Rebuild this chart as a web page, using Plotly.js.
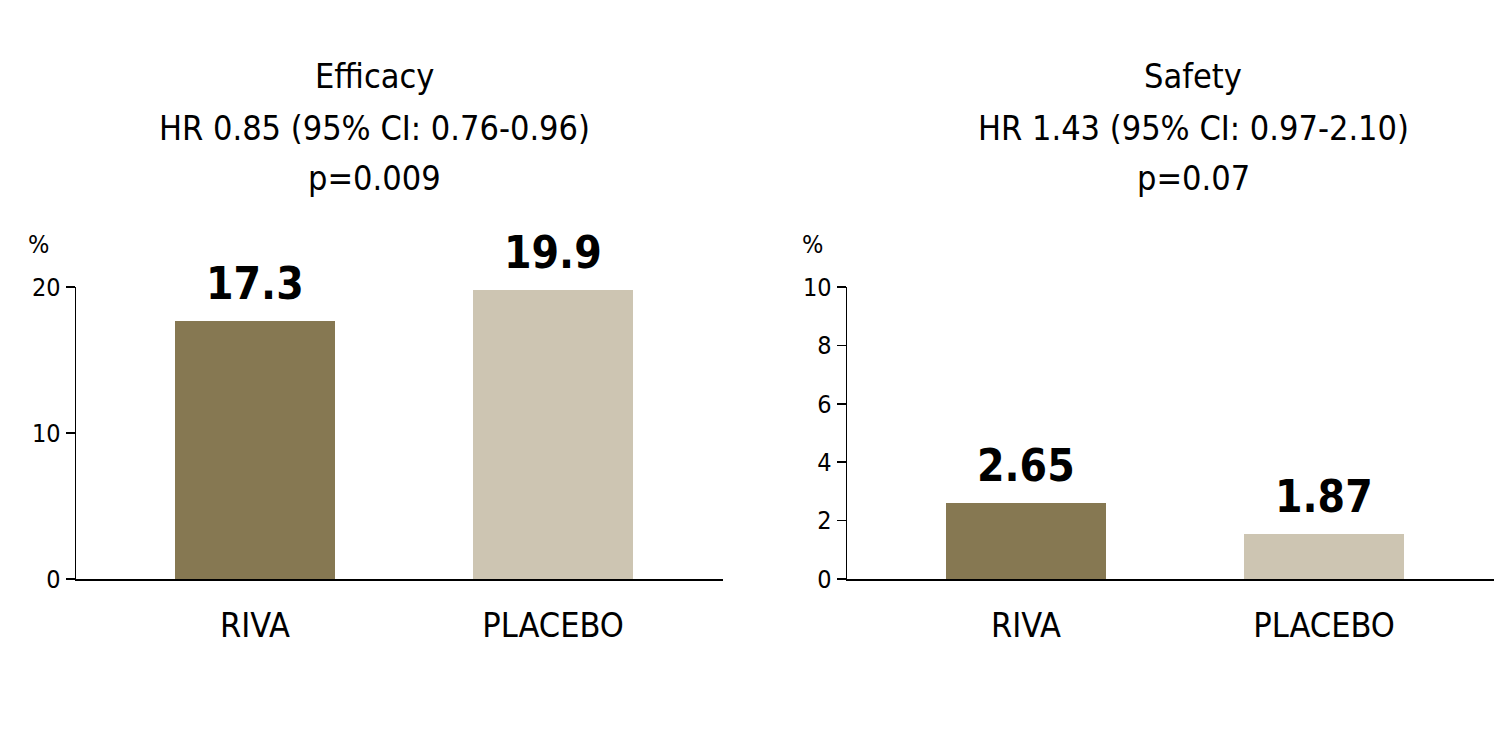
<!DOCTYPE html>
<html>
<head>
<meta charset="utf-8">
<script src="https://cdn.plot.ly/plotly-3.0.1.min.js"></script>
<style>html,body{margin:0;padding:0;background:#fff;}#chart{width:1512px;height:749px;}</style>
</head>
<body>
<div id="chart"></div>
<script>
// ---- data ----
const categories = ["RIVA", "PLACEBO"];
const efficacyBars = [17.7, 19.8];      // bar heights as drawn
const efficacyLabels = ["17.3", "19.9"];
const safetyBars = [2.6, 1.54];         // bar heights as drawn
const safetyLabels = ["2.65", "1.87"];
const efficacyTicks = [0, 10, 20];
const safetyTicks = [0, 2, 4, 6, 8, 10];
const efficacyTitle = ["Efficacy", "HR 0.85 (95% CI: 0.76-0.96)", "p=0.009"];
const safetyTitle = ["Safety", "HR 1.43 (95% CI: 0.97-2.10)", "p=0.07"];
const yUnit = "%";

// ---- style ----
const FONT = "'Liberation Sans Narrow', 'DejaVu Sans Condensed', 'Roboto Condensed', 'Arial Narrow', sans-serif";
const barColors = ["#867852", "#cdc5b2"];
const W = 1512, H = 749;

const traces = [
  {type: "bar", x: categories, y: efficacyBars, xaxis: "x", yaxis: "y",
   marker: {color: barColors}, width: 0.537, hoverinfo: "none"},
  {type: "bar", x: categories, y: safetyBars, xaxis: "x2", yaxis: "y2",
   marker: {color: barColors}, width: 0.537, hoverinfo: "none"}
];

const yDom = [1 - 579 / H, 1 - 287 / H];
function yax(range, ticks, anchor) {
  return {domain: yDom, anchor: anchor, range: range, tickvals: ticks, ticktext: ticks.map(String),
    showline: true, linecolor: "#000", linewidth: 1.5, ticks: "outside", ticklen: 9,
    tickwidth: 1.5, tickcolor: "#000", showgrid: false, zeroline: false,
    tickfont: {family: FONT, size: 25, color: "#000"}, fixedrange: true};
}
function xax(dom, anchor) {
  return {domain: dom, anchor: anchor, range: [-0.6, 1.57], showline: true, linecolor: "#000",
    linewidth: 1.5, ticks: "", showgrid: false, zeroline: false, ticklabelstandoff: 16,
    tickfont: {family: FONT, size: 34, color: "#000"}, fixedrange: true};
}

const annotations = [];
function addLabels(bars, labels, xref, yref) {
  categories.forEach((c, i) => annotations.push({
    x: c, y: bars[i], xref: xref, yref: yref, text: labels[i], showarrow: false,
    yanchor: "bottom", yshift: 10,
    font: {family: FONT, size: 44, color: "#000", weight: 700}
  }));
}
addLabels(efficacyBars, efficacyLabels, "x", "y");
addLabels(safetyBars, safetyLabels, "x2", "y2");

function addTitle(lines, cx) {
  const ys = [76, 128, 178];
  lines.forEach((t, i) => annotations.push({
    x: cx / W, y: 1 - ys[i] / H, xref: "paper", yref: "paper", text: t, showarrow: false,
    xanchor: "center", yanchor: "middle", font: {family: FONT, size: 34, color: "#000"}
  }));
}
addTitle(efficacyTitle, 374);
addTitle(safetyTitle, 1193);

[38, 812].forEach(px => annotations.push({
  x: px / W, y: 1 - 245 / H, xref: "paper", yref: "paper", text: yUnit, showarrow: false,
  xanchor: "center", yanchor: "middle", font: {family: FONT, size: 25, color: "#000"}
}));

const layout = {
  width: W, height: H, margin: {l: 0, r: 0, t: 0, b: 0},
  paper_bgcolor: "#fff", plot_bgcolor: "#fff", showlegend: false, bargap: 0,
  xaxis: xax([76 / W, 723 / W], "y"),
  yaxis: yax([0, 20], efficacyTicks, "x"),
  xaxis2: xax([847 / W, 1494 / W], "y2"),
  yaxis2: yax([0, 10], safetyTicks, "x2"),
  annotations: annotations
};

Plotly.newPlot("chart", traces, layout, {displayModeBar: false, staticPlot: true});
</script>
</body>
</html>
